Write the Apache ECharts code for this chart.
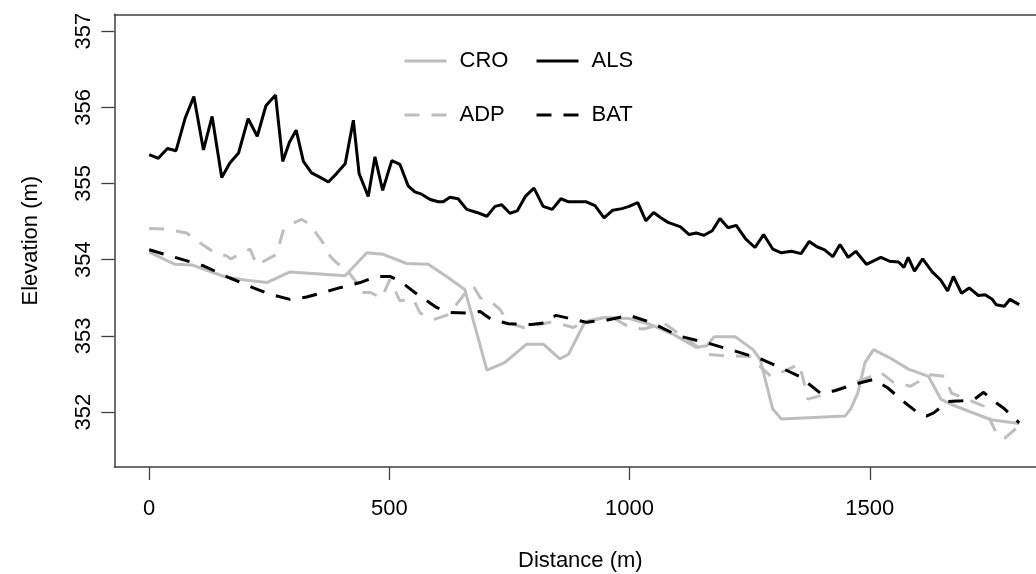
<!DOCTYPE html>
<html>
<head>
<meta charset="utf-8">
<script src="https://cdn.jsdelivr.net/npm/echarts@6/dist/echarts.min.js"></script>
<style>
  html, body { margin: 0; padding: 0; background: #fff; }
  #chart { width: 1036px; height: 574px; }
</style>
</head>
<body>
<div id="chart"></div>
<script>
// tick labels
const xTicks = [0, 500, 1000, 1500]
const yTicks = [352, 353, 354, 355, 356, 357]

// ALS (black solid)
const alsDist = [0, 19, 38, 56, 75, 93, 113, 131, 151, 168, 186, 206, 225, 243, 263, 278, 292, 306, 321, 338, 356, 373, 390, 408, 425, 437, 456, 470, 486, 505, 522, 539, 553, 567, 585, 602, 612, 626, 643, 661, 682, 703, 720, 734, 751, 766, 783, 801, 820, 839, 857, 873, 892, 910, 928, 947, 965, 984, 999, 1017, 1034, 1050, 1065, 1080, 1106, 1124, 1139, 1155, 1172, 1188, 1205, 1222, 1242, 1261, 1279, 1298, 1316, 1337, 1357, 1374, 1390, 1406, 1423, 1438, 1455, 1471, 1493, 1523, 1541, 1560, 1571, 1580, 1593, 1610, 1630, 1648, 1662, 1674, 1691, 1707, 1726, 1740, 1755, 1763, 1780, 1792, 1811]
const alsElev = [355.38, 355.33, 355.46, 355.43, 355.86, 356.14, 355.44, 355.88, 355.08, 355.27, 355.40, 355.85, 355.62, 356.02, 356.16, 355.29, 355.54, 355.70, 355.29, 355.14, 355.08, 355.02, 355.13, 355.26, 355.83, 355.13, 354.83, 355.35, 354.91, 355.30, 355.25, 354.97, 354.89, 354.86, 354.79, 354.76, 354.76, 354.82, 354.80, 354.66, 354.62, 354.57, 354.70, 354.72, 354.61, 354.64, 354.83, 354.94, 354.70, 354.66, 354.80, 354.76, 354.76, 354.76, 354.71, 354.55, 354.65, 354.67, 354.70, 354.75, 354.51, 354.62, 354.55, 354.49, 354.43, 354.33, 354.35, 354.32, 354.38, 354.54, 354.42, 354.45, 354.27, 354.16, 354.33, 354.14, 354.09, 354.11, 354.08, 354.24, 354.17, 354.13, 354.04, 354.20, 354.03, 354.11, 353.94, 354.03, 353.98, 353.97, 353.90, 354.03, 353.85, 354.01, 353.84, 353.73, 353.59, 353.78, 353.56, 353.63, 353.53, 353.54, 353.48, 353.41, 353.39, 353.48, 353.41]

// CRO (grey solid)
const croDist = [0, 54, 89, 116, 161, 203, 245, 293, 408, 453, 487, 536, 581, 619, 657, 703, 740, 785, 821, 855, 873, 906, 947, 998, 1043, 1091, 1139, 1161, 1176, 1220, 1257, 1272, 1298, 1316, 1449, 1460, 1475, 1490, 1508, 1545, 1582, 1622, 1648, 1670, 1752, 1811]
const croElev = [354.10, 353.94, 353.93, 353.87, 353.77, 353.73, 353.70, 353.84, 353.79, 354.09, 354.07, 353.95, 353.94, 353.78, 353.61, 352.55, 352.65, 352.89, 352.89, 352.70, 352.76, 353.17, 353.24, 353.23, 353.15, 353.02, 352.85, 352.87, 352.99, 352.99, 352.82, 352.69, 352.04, 351.91, 351.95, 352.04, 352.25, 352.65, 352.82, 352.70, 352.56, 352.47, 352.17, 352.10, 351.90, 351.85]

// ADP (grey dashed)
const adpDist = [0, 36, 78, 106, 137, 161, 170, 210, 224, 265, 279, 293, 317, 335, 362, 376, 390, 411, 432, 435, 460, 484, 501, 522, 550, 564, 595, 623, 664, 675, 689, 709, 730, 748, 779, 800, 834, 859, 883, 907, 959, 1001, 1028, 1073, 1139, 1161, 1198, 1250, 1294, 1316, 1353, 1360, 1371, 1405, 1471, 1523, 1549, 1585, 1626, 1656, 1670, 1737, 1766, 1781, 1811]
const adpElev = [354.41, 354.40, 354.35, 354.22, 354.09, 354.05, 354.01, 354.14, 353.93, 354.07, 354.38, 354.46, 354.53, 354.46, 354.22, 354.05, 353.96, 353.87, 353.70, 353.57, 353.57, 353.50, 353.74, 353.46, 353.48, 353.30, 353.22, 353.28, 353.61, 353.65, 353.50, 353.46, 353.35, 353.17, 353.11, 353.13, 353.18, 353.15, 353.11, 353.19, 353.26, 353.11, 353.09, 353.16, 352.87, 352.76, 352.74, 352.73, 352.47, 352.52, 352.63, 352.47, 352.17, 352.23, 352.39, 352.52, 352.39, 352.34, 352.49, 352.47, 352.25, 352.08, 351.69, 351.66, 351.82]

// BAT (black dashed)
const batDist = [0, 54, 113, 168, 217, 255, 293, 328, 390, 439, 474, 501, 522, 553, 599, 623, 661, 689, 711, 748, 796, 821, 847, 881, 910, 954, 999, 1043, 1102, 1161, 1220, 1272, 1316, 1353, 1397, 1427, 1471, 1508, 1537, 1574, 1604, 1619, 1633, 1663, 1693, 1718, 1737, 1759, 1781, 1811]
const batElev = [354.13, 354.03, 353.92, 353.76, 353.63, 353.54, 353.48, 353.51, 353.62, 353.70, 353.78, 353.78, 353.72, 353.57, 353.37, 353.31, 353.30, 353.32, 353.22, 353.16, 353.15, 353.17, 353.27, 353.22, 353.18, 353.21, 353.27, 353.18, 353.00, 352.91, 352.80, 352.70, 352.58, 352.47, 352.25, 352.28, 352.37, 352.43, 352.32, 352.12, 351.97, 351.95, 351.99, 352.14, 352.15, 352.17, 352.26, 352.14, 352.04, 351.86]

const FONT = '"Liberation Sans", Arial, sans-serif'
const GREY = '#bebebe'
const FRAME = '#404040'
const DASH = [15, 12]

const pairs = (xs, ys) => xs.map((x, i) => [x, ys[i]])

const setSeries = (name, xs, ys, color, dashed) => {
  return {
    name: name,
    type: 'line',
    symbol: 'none',
    data: pairs(xs, ys),
    lineStyle: { color: color, width: 3, type: dashed ? DASH : 'solid' },
    itemStyle: { color: color },
    emphasis: { disabled: true },
    z: 2,
  }
}

// legend entry: line only, the symbol is made invisible
const legendItem = (name, color, dashed) => ({
  name: name,
  lineStyle: { color: color, width: 3, type: dashed ? DASH : 'solid', cap: 'butt' },
  itemStyle: { color: 'rgba(0,0,0,0)', borderColor: 'rgba(0,0,0,0)', borderWidth: 0, opacity: 0 },
})

const chart = echarts.init(document.getElementById('chart'), null, { renderer: 'canvas' })

const legendText = { fontFamily: FONT, fontSize: 22, color: '#000', padding: [0, 0, 0, 8], lineHeight: 22 }

const legendBox = (names, left) => ({
  data: names,
  orient: 'vertical', left: left, top: 45, itemWidth: 42, itemHeight: 22, itemGap: 32,
  lineStyle: { width: 3, cap: 'butt' },
  textStyle: legendText, selectedMode: false,
})

const option = {
  backgroundColor: '#fff',
  animation: false,
  textStyle: { fontFamily: FONT },
  grid: { left: 114.3, right: 0, top: 14.3, bottom: 107 },
  legend: [
    legendBox([legendItem('CRO', GREY, false), legendItem('ADP', GREY, true)], 398),
    legendBox([legendItem('ALS', '#000', false), legendItem('BAT', '#000', true)], 530),
  ],
  xAxis: [
    {
      type: 'value',
      min: -72.6,
      max: 1846,
      position: 'bottom',
      axisLine: { show: true, onZero: false, lineStyle: { color: FRAME, width: 1.5 } },
      axisTick: { show: true, customValues: xTicks, length: 13, lineStyle: { color: FRAME, width: 1.3 } },
      axisLabel: { customValues: xTicks, margin: 31, fontSize: 22, color: '#000', fontFamily: FONT, formatter: (v) => String(v) },
      splitLine: { show: false },
    },
    {
      type: 'value',
      min: -72.6,
      max: 1846,
      position: 'top',
      axisLine: { show: true, onZero: false, lineStyle: { color: FRAME, width: 1.5 } },
      axisTick: { show: false },
      axisLabel: { show: false },
      splitLine: { show: false },
    },
  ],
  yAxis: {
    type: 'value',
    min: 351.28,
    max: 357.22,
    name: 'Elevation (m)',
    nameLocation: 'middle',
    nameGap: 72,
    nameTextStyle: { fontSize: 22, color: '#000', fontFamily: FONT },
    axisLine: { show: true, onZero: false, lineStyle: { color: FRAME, width: 1.5 } },
    axisTick: { show: true, customValues: yTicks, length: 13, lineStyle: { color: FRAME, width: 1.3 } },
    axisLabel: { customValues: yTicks, rotate: 90, margin: 19, fontSize: 22, color: '#000', fontFamily: FONT, formatter: (v) => String(v) },
    splitLine: { show: false },
  },
  graphic: [
    {
      type: 'text',
      left: 518,
      top: 550,
      style: { text: 'Distance (m)', fontSize: 22, fontFamily: FONT, fill: '#000' },
    },
  ],
  series: [
    setSeries('CRO', croDist, croElev, GREY, false),
    setSeries('ADP', adpDist, adpElev, GREY, true),
    setSeries('ALS', alsDist, alsElev, '#000', false),
    setSeries('BAT', batDist, batElev, '#000', true),
  ],
}

chart.setOption(option)
</script>
</body>
</html>
